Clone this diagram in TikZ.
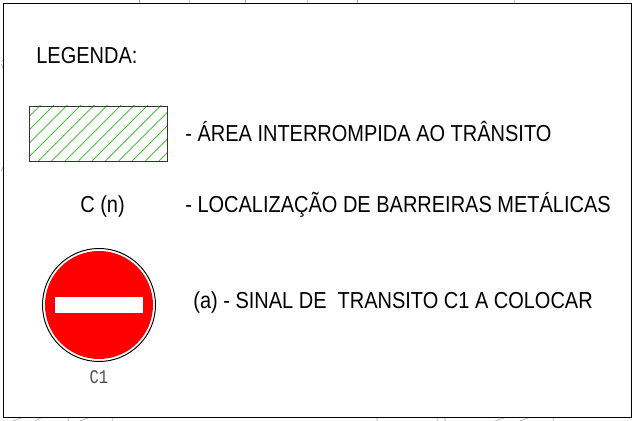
\documentclass[tikz,border=0pt]{standalone}
\usepackage{fontspec}
\setmainfont[FakeStretch=0.865]{Liberation Sans}
\newfontfamily\signfont[FakeStretch=0.8]{Liberation Mono}
\begin{document}
\begin{tikzpicture}[x=0.02cm,y=-0.02cm]
  \useasboundingbox (0,0) rectangle (633,421);
  \tikzset{legendtext/.style={inner sep=0pt,anchor=west,font=\fontsize{13.15}{15}\selectfont},
    stub/.style={gray!70,line width=0.35pt}}
  \definecolor{hatchgreen}{RGB}{40,190,20}

  % stray ends around the frame
  \foreach \xa/\ya/\xb/\yb in {139/0/139/3,189/0/190/3,245/0/245/3,307/0/308/3,357/0/357/3,514/0/515/3,
    13/421/21/418,35/421/41/418,68/418/69/421,80/421/88/418,113/418/112/421,376/418/378/421,437/418/438/421,
    444/418/446/421,495/421/504/418,520/421/528/418,553/418/554/421,1/64/3/68,1/62/3/60,1/171/3/167} {
    \draw[stub] (\xa,\ya) -- (\xb,\yb);
  }

  \draw[line width=0.7pt] (3.5,3.5) rectangle (631.5,417.5);

  \node[legendtext] (title) at (36,56) {LEGENDA:};

  % hatched area
  \begin{scope}
    \clip (29,106) rectangle (167,161);
    \foreach \i in {-2,...,11} {
      \draw[hatchgreen,line width=0.4pt] (\i*13.4 + 11.5,161) -- ++(60,-60);
    }
  \end{scope}
  \draw[line width=0.5pt,black!80] (29,106) rectangle (167,161);
  \node[legendtext] (area) at (185,131.5) {- ÁREA INTERROMPIDA AO TRÂNSITO};

  \node[legendtext] (cn) at (80,207) {C (n)};
  \node[legendtext] (barreiras) at (185,204.5) {- LOCALIZAÇÃO DE BARREIRAS METÁLICAS};

  % sign
  \draw[line width=0.55pt] (99,305) circle (56.5);
  \fill[red] (99,305) circle (54);
  \fill[white] (55,297) rectangle (143.3,312.7);
  \node[inner sep=0pt,black!70,font=\signfont\fontsize{11}{13}\selectfont] (c1) at (99,377) {C1};
  \node[legendtext] (sinal) at (193,302.5) {(a) - SINAL DE\ \ TRANSITO C1 A COLOCAR};
\end{tikzpicture}
\end{document}
